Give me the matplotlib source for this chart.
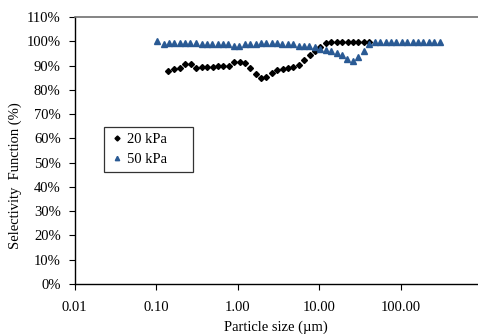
import matplotlib
matplotlib.use("Agg")
import matplotlib.pyplot as plt
from matplotlib.ticker import FixedLocator, FixedFormatter, NullLocator

# Data
size_20kpa = [0.141, 0.167, 0.196, 0.228, 0.267, 0.310, 0.365, 0.424, 0.498, 0.573,
              0.667, 0.775, 0.910, 1.057, 1.230, 1.430, 1.678, 1.933, 2.246, 2.636,
              3.064, 3.562, 4.140, 4.814, 5.653, 6.572, 7.713, 8.890, 10.33, 12.11,
              14.08, 16.52, 19.22, 22.34, 25.98, 30.20, 35.13, 40.83]
sel_20kpa = [87.9, 88.4, 89.0, 90.5, 90.5, 88.9, 89.4, 89.4, 89.4, 89.8,
             89.8, 89.8, 91.5, 91.5, 91.1, 88.9, 86.4, 84.9, 85.4, 87.1,
             88.0, 88.7, 89.0, 89.4, 90.4, 92.3, 94.2, 96.2, 97.8, 99.2,
             99.7, 99.7, 99.7, 99.7, 99.7, 99.7, 99.7, 99.7]

size_50kpa = [0.104, 0.124, 0.144, 0.167, 0.194, 0.226, 0.262, 0.305, 0.361, 0.420,
              0.488, 0.568, 0.660, 0.767, 0.901, 1.047, 1.230, 1.416, 1.660, 1.932,
              2.245, 2.610, 3.034, 3.528, 4.140, 4.814, 5.598, 6.503, 7.568, 8.79,
              10.33, 12.00, 14.09, 16.37, 19.05, 22.13, 25.76, 29.92, 35.13, 41.21,
              47.95, 55.72, 65.46, 76.03, 88.3, 102.8, 120.5, 140.3, 162.9, 189.7,
              222.4, 258.8, 300.6]
sel_50kpa = [100.0, 98.8, 99.2, 99.2, 99.2, 99.2, 99.2, 99.2, 98.8, 98.8,
             98.8, 98.8, 98.8, 98.8, 98.2, 98.2, 98.8, 98.8, 98.8, 99.2,
             99.2, 99.2, 99.2, 98.8, 98.8, 98.8, 98.2, 98.2, 98.2, 97.8,
             97.0, 96.6, 96.1, 95.3, 94.2, 92.8, 92.0, 93.7, 96.1, 98.8,
             99.6, 99.6, 99.6, 99.6, 99.6, 99.6, 99.6, 99.6, 99.6, 99.6,
             99.6, 99.6, 99.6]

x_ticks = [0.01, 0.1, 1, 10, 100]
x_labels = ["0.01", "0.10", "1.00", "10.00", "100.00"]
y_ticks = list(range(0, 111, 10))
y_labels = [f"{v}%" for v in y_ticks]

plt.rcParams["font.family"] = ["Liberation Serif", "DejaVu Serif"]
FS = 10.5

fig = plt.figure(figsize=(4.78, 3.34), dpi=100)
ax = fig.add_axes([0.156, 0.150, 0.844, 0.799])

ax.plot(size_20kpa, sel_20kpa, linestyle="none", marker="D", markersize=3.0,
        color="black", label="20 kPa")
ax.plot(size_50kpa, sel_50kpa, linestyle="none", marker="^", markersize=3.7,
        color="#2a5a94", label="50 kPa")

ax.set_xscale("log")
ax.set_xlim(0.01, 887)
ax.set_ylim(0, 110)
ax.xaxis.set_major_locator(FixedLocator(x_ticks))
ax.xaxis.set_major_formatter(FixedFormatter(x_labels))
ax.xaxis.set_minor_locator(NullLocator())
ax.set_yticks(y_ticks)
ax.set_yticklabels(y_labels)
ax.tick_params(axis="both", direction="out", length=4, width=0.8, labelsize=FS)
ax.tick_params(axis="x", pad=8)
ax.tick_params(axis="y", pad=6)

ax.spines["right"].set_visible(False)
ax.spines["top"].set_color("#707070")
ax.spines["top"].set_linewidth(1.2)
ax.spines["left"].set_linewidth(1.0)
ax.spines["bottom"].set_linewidth(1.0)

ax.set_xlabel("Particle size (\u00b5m)", fontsize=FS, va="center")
ax.xaxis.set_label_coords(0.5, -0.161)
ax.set_ylabel("Selectivity  Function (%)", fontsize=FS, va="center")
ax.yaxis.set_label_coords(-0.148, 0.405)

# legend box stretched to the reference width
leg = ax.legend(loc="upper left", bbox_to_anchor=(0.0727, 0.40, 0.2207, 0.188),
                mode="expand", borderaxespad=0,
                fontsize=FS, frameon=True, fancybox=False, edgecolor="black",
                handletextpad=0.15, handlelength=1.0, borderpad=0.4,
                labelspacing=0.45, markerscale=0.85)
leg.get_frame().set_linewidth(0.9)

fig.savefig("out.png", dpi=100)
